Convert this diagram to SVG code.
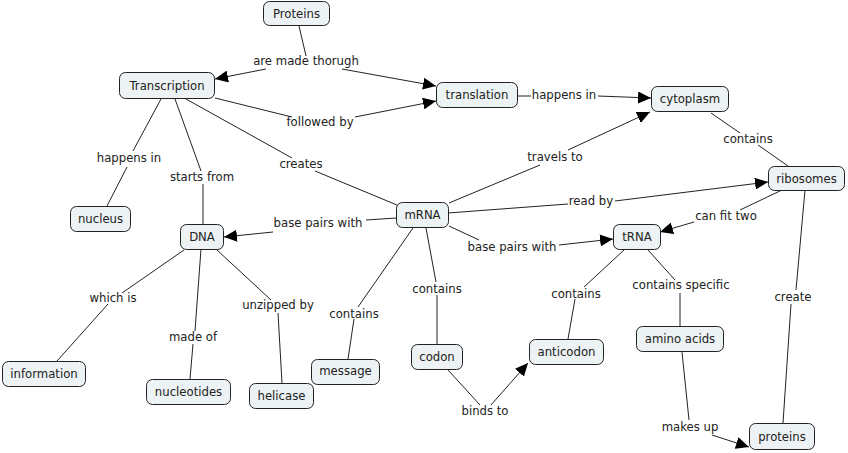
<svg xmlns="http://www.w3.org/2000/svg" width="848" height="453" viewBox="0 0 848 453">
<style>
.n rect{fill:#edf2f4;stroke:#222;stroke-width:1}
text{font-family:"DejaVu Sans",Verdana,sans-serif;font-size:11.7px;fill:#222;text-anchor:middle}
.c line{stroke:#222;stroke-width:1}
</style>
<defs>
<marker id="a" markerUnits="userSpaceOnUse" markerWidth="14" markerHeight="12" refX="13" refY="6" orient="auto">
<path d="M0,0 L13,6 L0,12 z" fill="#000"/>
</marker>
</defs>
<rect width="848" height="453" fill="#fff"/>
<g class="c" id="connectors">
<line x1="299" y1="26" x2="306" y2="56"/>
<line x1="266" y1="69" x2="215" y2="79" marker-end="url(#a)"/>
<line x1="342" y1="69" x2="436" y2="86" marker-end="url(#a)"/>
<line x1="215" y1="98" x2="292" y2="117"/>
<line x1="355" y1="117" x2="436" y2="101" marker-end="url(#a)"/>
<line x1="518" y1="96" x2="531" y2="96"/>
<line x1="598" y1="96" x2="651" y2="98" marker-end="url(#a)"/>
<line x1="711" y1="113" x2="740" y2="133"/>
<line x1="758" y1="145" x2="788" y2="166"/>
<line x1="449" y1="203" x2="540" y2="165"/>
<line x1="568" y1="150" x2="650" y2="112" marker-end="url(#a)"/>
<line x1="448" y1="213" x2="568" y2="204"/>
<line x1="615" y1="201" x2="768" y2="182" marker-end="url(#a)"/>
<line x1="782" y1="190" x2="740" y2="210"/>
<line x1="694" y1="222" x2="660" y2="232" marker-end="url(#a)"/>
<line x1="805" y1="190" x2="796" y2="290"/>
<line x1="791" y1="304" x2="783" y2="423"/>
<line x1="161" y1="99" x2="133" y2="151"/>
<line x1="127" y1="167" x2="107" y2="206"/>
<line x1="175" y1="99" x2="201" y2="171"/>
<line x1="203" y1="184" x2="203" y2="224"/>
<line x1="186" y1="99" x2="292" y2="158"/>
<line x1="315" y1="171" x2="397" y2="205"/>
<line x1="396" y1="218" x2="366" y2="220"/>
<line x1="273" y1="232" x2="224" y2="237" marker-end="url(#a)"/>
<line x1="184" y1="250" x2="122" y2="293"/>
<line x1="108" y1="304" x2="57" y2="361"/>
<line x1="201" y1="249" x2="195" y2="331"/>
<line x1="193" y1="344" x2="190" y2="379"/>
<line x1="217" y1="250" x2="271" y2="300"/>
<line x1="278" y1="313" x2="282" y2="383"/>
<line x1="413" y1="228" x2="358" y2="307"/>
<line x1="354" y1="319" x2="348" y2="359"/>
<line x1="426" y1="228" x2="436" y2="282"/>
<line x1="437" y1="295" x2="437" y2="344"/>
<line x1="449" y1="226" x2="479" y2="240"/>
<line x1="559" y1="245" x2="613" y2="239" marker-end="url(#a)"/>
<line x1="624" y1="250" x2="584" y2="287"/>
<line x1="575" y1="299" x2="568" y2="339"/>
<line x1="648" y1="250" x2="675" y2="280"/>
<line x1="680" y1="293" x2="680" y2="326"/>
<line x1="448" y1="370" x2="480" y2="405"/>
<line x1="491" y1="405" x2="528" y2="363" marker-end="url(#a)"/>
<line x1="682" y1="352" x2="689" y2="420"/>
<line x1="712" y1="435" x2="749" y2="447" marker-end="url(#a)"/>
</g>
<g id="labels">
<text x="306" y="65">are made thorugh</text>
<text x="320" y="126">followed by</text>
<text x="564" y="99">happens in</text>
<text x="748" y="143">contains</text>
<text x="555" y="161">travels to</text>
<text x="591" y="205">read by</text>
<text x="726" y="220">can fit two</text>
<text x="129" y="162">happens in</text>
<text x="202" y="181">starts from</text>
<text x="301" y="168">creates</text>
<text x="318" y="227">base pairs with</text>
<text x="113" y="302">which is</text>
<text x="193" y="341">made of</text>
<text x="278" y="309">unzipped by</text>
<text x="354" y="318">contains</text>
<text x="437" y="293">contains</text>
<text x="512" y="251">base pairs with</text>
<text x="576" y="298">contains</text>
<text x="681" y="289">contains specific</text>
<text x="793" y="301">create</text>
<text x="485" y="415">binds to</text>
<text x="690" y="431">makes up</text>
</g>
<g class="n" id="n-proteins-top"><rect x="263.5" y="1.5" width="66" height="24" rx="6"/><text x="296.5" y="18">Proteins</text></g>
<g class="n" id="n-transcription"><rect x="119.5" y="72.5" width="95" height="26" rx="6"/><text x="167" y="89.5">Transcription</text></g>
<g class="n" id="n-translation"><rect x="436.5" y="82.5" width="81" height="25" rx="6"/><text x="477" y="99">translation</text></g>
<g class="n" id="n-cytoplasm"><rect x="651.5" y="86.5" width="77" height="25" rx="6"/><text x="690" y="103">cytoplasm</text></g>
<g class="n" id="n-ribosomes"><rect x="768.5" y="166.5" width="76" height="24" rx="6"/><text x="806.5" y="182.5">ribosomes</text></g>
<g class="n" id="n-nucleus"><rect x="70.5" y="206.5" width="60" height="25" rx="6"/><text x="100.5" y="223">nucleus</text></g>
<g class="n" id="n-dna"><rect x="180.5" y="224.5" width="43" height="25" rx="6"/><text x="202" y="241">DNA</text></g>
<g class="n" id="n-mrna"><rect x="396.5" y="202.5" width="52" height="25" rx="6"/><text x="422.5" y="219">mRNA</text></g>
<g class="n" id="n-information"><rect x="2.5" y="361.5" width="83" height="25" rx="6"/><text x="44" y="378">information</text></g>
<g class="n" id="n-nucleotides"><rect x="146.5" y="379.5" width="84" height="25" rx="6"/><text x="188.5" y="396">nucleotides</text></g>
<g class="n" id="n-helicase"><rect x="249.5" y="383.5" width="64" height="25" rx="6"/><text x="281.5" y="400">helicase</text></g>
<g class="n" id="n-message"><rect x="311.5" y="359.5" width="68" height="25" rx="6"/><text x="345.5" y="375">message</text></g>
<g class="n" id="n-codon"><rect x="411.5" y="344.5" width="51" height="25" rx="6"/><text x="437" y="361">codon</text></g>
<g class="n" id="n-anticodon"><rect x="529.5" y="339.5" width="74" height="25" rx="6"/><text x="566.5" y="356">anticodon</text></g>
<g class="n" id="n-trna"><rect x="613.5" y="224.5" width="47" height="25" rx="6"/><text x="637" y="241">tRNA</text></g>
<g class="n" id="n-amino-acids"><rect x="636.5" y="326.5" width="87" height="25" rx="6"/><text x="680" y="343">amino acids</text></g>
<g class="n" id="n-proteins"><rect x="749.5" y="423.5" width="65" height="26" rx="6"/><text x="782" y="440.5">proteins</text></g>
</svg>
